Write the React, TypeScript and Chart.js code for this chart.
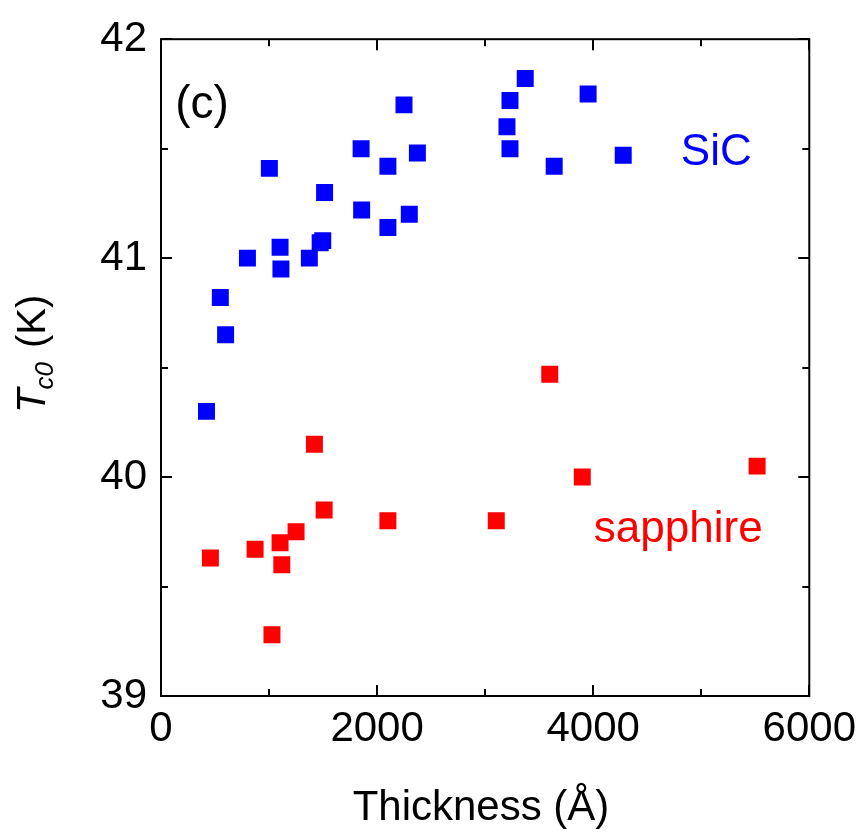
import React, { useEffect, useRef } from "react";
import { Chart, registerables } from "chart.js";

Chart.register(...registerables);

// ---------- data ----------
const sicThickness = [421, 549, 598, 800, 1003, 1102, 1110, 1373, 1473, 1497, 1514, 1852, 1857, 2100, 2100, 2249, 2298, 2373, 3202, 3230, 3230, 3371, 3639, 3953, 4278];
const sicTc0 = [40.30, 40.82, 40.65, 41.00, 41.41, 41.05, 40.95, 41.00, 41.07, 41.08, 41.30, 41.50, 41.22, 41.42, 41.14, 41.70, 41.20, 41.48, 41.60, 41.72, 41.50, 41.82, 41.42, 41.75, 41.47];

const sapphireThickness = [457, 871, 1027, 1102, 1118, 1250, 1420, 1510, 2100, 3103, 3598, 3899, 5517];
const sapphireTc0 = [39.63, 39.67, 39.28, 39.70, 39.60, 39.75, 40.15, 39.85, 39.80, 39.80, 40.47, 40.00, 40.05];

const xTickValues = [0, 1000, 2000, 3000, 4000, 5000, 6000];
const xTickLabels = ["0", "", "2000", "", "4000", "", "6000"];
const yTickValues = [39, 39.5, 40, 40.5, 41, 41.5, 42];
const yTickLabels = ["39", "", "40", "", "41", "", "42"];

const annotationTexts = ["(c)", "SiC", "sapphire"];
const annotationX = [379, 5139, 4787];
const annotationY = [41.70, 41.48, 39.76];
const annotationColors = ["#000000", "#0000ff", "#ff0000"];

const FONT = '"Liberation Sans", Arial, Helvetica, sans-serif';

const framePlugin = {
  id: "framePlugin",
  afterDraw(chart: any) {
    const { ctx, chartArea: a, scales } = chart;
    const xs = scales.x;
    const ys = scales.y;
    ctx.save();
    ctx.strokeStyle = "#000";
    ctx.lineWidth = 2;
    ctx.lineCap = "square";
    ctx.strokeRect(a.left, a.top, a.right - a.left, a.bottom - a.top);
    ctx.lineCap = "butt";
    ctx.beginPath();
    xTickValues.forEach((v, i) => {
      const px = Math.round(xs.getPixelForValue(v));
      const len = xTickLabels[i] ? 11 : 7;
      ctx.moveTo(px, a.bottom);
      ctx.lineTo(px, a.bottom - len);
      ctx.moveTo(px, a.top);
      ctx.lineTo(px, a.top + len);
    });
    yTickValues.forEach((v, i) => {
      const py = Math.round(ys.getPixelForValue(v));
      const len = yTickLabels[i] ? 11 : 7;
      ctx.moveTo(a.left, py);
      ctx.lineTo(a.left + len, py);
      ctx.moveTo(a.right, py);
      ctx.lineTo(a.right - len, py);
    });
    ctx.stroke();

    // annotations in data space
    ctx.textAlign = "center";
    ctx.textBaseline = "middle";
    annotationTexts.forEach((t, i) => {
      ctx.fillStyle = annotationColors[i];
      ctx.font = `${i === 0 ? 46 : 44}px ${FONT}`;
      ctx.fillText(t, xs.getPixelForValue(annotationX[i]), ys.getPixelForValue(annotationY[i]));
    });

    // x axis title
    ctx.fillStyle = "#000";
    ctx.font = `42px ${FONT}`;
    ctx.textAlign = "center";
    ctx.textBaseline = "alphabetic";
    ctx.fillText("Thickness (Å)", 481, 820);

    // y axis title, rotated: T_c0 (K)
    ctx.save();
    ctx.translate(45, 413);
    ctx.rotate(-Math.PI / 2);
    ctx.textAlign = "left";
    ctx.textBaseline = "alphabetic";
    ctx.font = `italic 40px ${FONT}`;
    ctx.fillText("T", 0, 0);
    const tW = ctx.measureText("T").width;
    ctx.font = `italic 26px ${FONT}`;
    ctx.fillText("c0", tW - 1, 8);
    const cW = ctx.measureText("c0").width;
    ctx.font = `40px ${FONT}`;
    ctx.fillText("(K)", tW - 1 + cW + 14, 0);
    ctx.restore();

    ctx.restore();
  },
};

export default function App() {
  const ref = useRef<HTMLCanvasElement | null>(null);

  useEffect(() => {
    document.body.style.margin = "0";
    const canvas = ref.current;
    if (!canvas) return;
    const chart = new Chart(canvas, {
      type: "scatter",
      data: {
        datasets: [
          {
            label: "sapphire",
            data: sapphireThickness.map((x, i) => ({ x, y: sapphireTc0[i] })),
            pointStyle: "rect",
            pointRadius: 12,
            pointHoverRadius: 12,
            backgroundColor: "#ff0000",
            borderColor: "#ff0000",
            borderWidth: 0,
          },
          {
            label: "SiC",
            data: sicThickness.map((x, i) => ({ x, y: sicTc0[i] })),
            pointStyle: "rect",
            pointRadius: 12,
            pointHoverRadius: 12,
            backgroundColor: "#0000ff",
            borderColor: "#0000ff",
            borderWidth: 0,
          },
        ],
      },
      options: {
        responsive: false,
        animation: false,
        layout: { padding: { left: 0, right: 54, top: 35, bottom: 0 } },
        plugins: {
          legend: { display: false },
          tooltip: { enabled: false },
        },
        scales: {
          x: {
            type: "linear",
            min: 0,
            max: 6000,
            grid: { display: false, drawTicks: false },
            border: { display: false },
            afterBuildTicks: (scale: any) => {
              scale.ticks = xTickValues.map((v) => ({ value: v }));
            },
            afterFit: (scale: any) => {
              scale.height = 137;
            },
            ticks: {
              autoSkip: false,
              maxRotation: 0,
              padding: 8,
              color: "#000",
              font: { family: FONT, size: 42 },
              callback: (v: any) => {
                const i = xTickValues.indexOf(Number(v));
                return i >= 0 ? xTickLabels[i] : "";
              },
            },
          },
          y: {
            type: "linear",
            min: 39,
            max: 42,
            grid: { display: false, drawTicks: false },
            border: { display: false },
            afterBuildTicks: (scale: any) => {
              scale.ticks = yTickValues.map((v) => ({ value: v }));
            },
            afterFit: (scale: any) => {
              scale.width = 161;
            },
            ticks: {
              autoSkip: false,
              padding: 14,
              color: "#000",
              font: { family: FONT, size: 42 },
              callback: (v: any) => {
                const i = yTickValues.indexOf(Number(v));
                return i >= 0 ? yTickLabels[i] : "";
              },
            },
          },
        },
      },
      plugins: [framePlugin],
    } as any);
    return () => chart.destroy();
  }, []);

  return (
    <div style={{ width: 864, height: 833, background: "#fff" }}>
      <canvas ref={ref} width={864} height={833} style={{ display: "block" }} />
    </div>
  );
}
